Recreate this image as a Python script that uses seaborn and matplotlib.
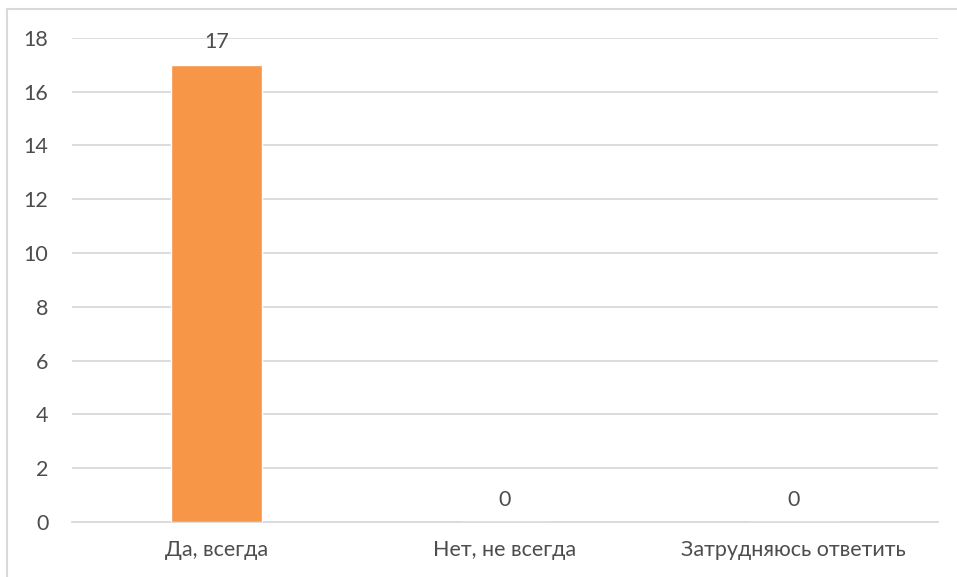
import matplotlib
matplotlib.use("Agg")
import matplotlib.pyplot as plt
import seaborn as sns
import pandas as pd
from matplotlib.lines import Line2D

categories = ["Да, всегда", "Нет, не всегда", "Затрудняюсь ответить"]
counts = [17, 0, 0]
y_ticks = list(range(0, 19, 2))

df = pd.DataFrame({"answer": categories, "count": counts})

sns.set_theme(style="white")
plt.rcParams["font.family"] = ["Lato", "DejaVu Sans"]

text_color = "#4d4d4d"
grid_color = "#D9D9D9"

fig = plt.figure(figsize=(9.57, 5.77), dpi=100)
ax = fig.add_axes([0.0752, 0.0953, 0.905, 0.839])

sns.barplot(data=df, x="answer", y="count", color="#F79646",
            saturation=1, width=0.315, ax=ax, zorder=3)

ax.set_ylim(0, 18)
ax.set_yticks(y_ticks)
ax.set_xlim(-0.5, 2.5)
ax.yaxis.grid(True, color=grid_color, linewidth=1.3, zorder=0)
ax.set_axisbelow(True)
for side in ["top", "right", "left"]:
    ax.spines[side].set_visible(False)
ax.spines["bottom"].set_color(grid_color)
ax.spines["bottom"].set_linewidth(1.3)
ax.set_xlabel("")
ax.set_ylabel("")
ax.tick_params(axis="both", length=0, labelsize=15.5, colors=text_color)
ax.tick_params(axis="y", pad=17)
ax.tick_params(axis="x", pad=13)

# value labels
for i, v in enumerate(counts):
    ax.annotate(str(v), (i, v), xytext=(0, 9), textcoords="offset points",
                ha="center", va="bottom", fontsize=15.5, color=text_color)

# chart border (left and top only visible)
fig.add_artist(Line2D([7 / 957, 7 / 957], [0, 1 - 9 / 577],
                      transform=fig.transFigure, color=grid_color, linewidth=1.5))
fig.add_artist(Line2D([7 / 957, 1], [1 - 9 / 577, 1 - 9 / 577],
                      transform=fig.transFigure, color=grid_color, linewidth=1.5))

fig.savefig("out.png", dpi=100)
